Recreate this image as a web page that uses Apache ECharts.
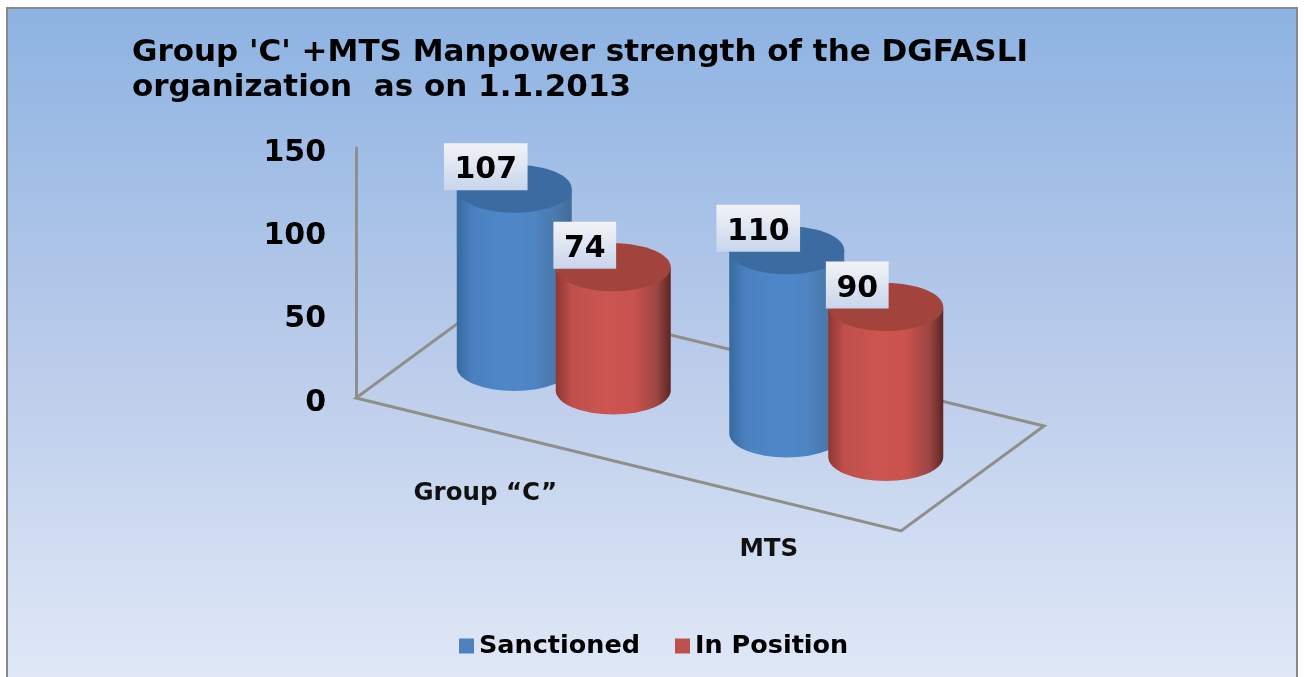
<!DOCTYPE html>
<html>
<head>
<meta charset="utf-8">
<style>html,body{margin:0;padding:0;background:#fff}#chart{width:1304px;height:677px}</style>
<script src="https://cdn.jsdelivr.net/npm/echarts@6/dist/echarts.min.js"></script>
</head>
<body>
<div id="chart"></div>
<script>
var titleText = "Group 'C' +MTS Manpower strength of the DGFASLI\norganization  as on 1.1.2013";
var categories = ['Group \u201CC\u201D', 'MTS'];
var sanctioned = [107, 110];
var inPosition = [74, 90];
var yTicks = [0, 50, 100, 150];

var FONT = '"DejaVu Sans", Verdana, sans-serif';
var GRID = {left: 356, top: 148, width: 545, height: 250};
var SKEW = 133 / 545;            // fall of the floor's front edge per pixel
var DEPTH = [143, -105];         // floor depth vector
var RX = 57.5, RY = 24;
var labelNudge = [[-7, 62.5], [4, 51.5]];

var blueBody = ['#366a9f', '#4a80bf', '#4f88ca', '#4d84c2', '#4a77a8', '#3f6c9c'];
var redBody = ['#8f3733', '#bf4f4b', '#cd5551', '#c9524e', '#9c4643', '#5c2523'];

function bodyFill(stops) {
  return new echarts.graphic.LinearGradient(0, 0, 1, 0, [
    {offset: 0, color: stops[0]}, {offset: 0.14, color: stops[1]},
    {offset: 0.45, color: stops[2]}, {offset: 0.68, color: stops[3]},
    {offset: 0.88, color: stops[4]}, {offset: 1, color: stops[5]}
  ]);
}

function cylinder(seriesSide, bodyStops, topColor) {
  return function (params, api) {
    var cat = api.value(0), val = api.value(1);
    var sys = params.coordSys;
    var p = api.coord([cat, 0]);
    var h = api.size([0, val])[1];
    var cx = p[0] + DEPTH[0] / 2 + seriesSide * 49.5;
    var by = p[1] + (p[0] - sys.x) * SKEW + DEPTH[1] / 2 + seriesSide * 11.75;
    var ty = by - h;
    var x1 = cx - RX, x2 = cx + RX;
    var text = String(val);
    var font = 'bold 30px ' + FONT;
    var tw = echarts.format.getTextRect(text, font).width;
    var bw = tw + 21, bh = 47, bcx = cx - 28.5, bcy = ty - 22;
    return {
      type: 'group',
      children: [
        {type: 'path',
         shape: {pathData: 'M' + x1 + ' ' + ty + ' L' + x1 + ' ' + by +
           ' A' + RX + ' ' + RY + ' 0 0 0 ' + x2 + ' ' + by + ' L' + x2 + ' ' + ty + ' Z'},
         style: {fill: bodyFill(bodyStops)}},
        {type: 'ellipse', shape: {cx: cx, cy: ty, rx: RX, ry: RY}, style: {fill: topColor}},
        {type: 'rect', z2: 10, shape: {x: bcx - bw / 2, y: bcy - bh / 2, width: bw, height: bh},
         style: {fill: new echarts.graphic.LinearGradient(0, 0, 0, 1, [
           {offset: 0, color: '#f1f3f7'}, {offset: 0.35, color: '#e4e9f3'}, {offset: 1, color: '#c8d5ec'}
         ])}},
        {type: 'text', z2: 11, x: bcx, y: bcy + 4,
         style: {text: text, font: font, fill: '#000', align: 'center', verticalAlign: 'middle'}}
      ]
    };
  };
}

function floor(params) {
  var s = params.coordSys;
  var O = [s.x, s.y + s.height];
  var F = [O[0] + s.width, O[1] + s.width * SKEW];
  return {
    type: 'polygon',
    shape: {points: [O, F, [F[0] + DEPTH[0], F[1] + DEPTH[1]], [O[0] + DEPTH[0], O[1] + DEPTH[1]]]},
    style: {fill: 'none', stroke: '#8e8e8a', lineWidth: 3}
  };
}

function categoryLabel(params, api) {
  var i = api.value(0);
  var p = api.coord([i, 0]);
  return {
    type: 'text',
    x: p[0] + labelNudge[i][0],
    y: p[1] + (p[0] - params.coordSys.x) * SKEW + labelNudge[i][1],
    style: {text: categories[i], font: 'bold 24.5px ' + FONT, fill: '#111', align: 'center', verticalAlign: 'middle'}
  };
}

var chart = echarts.init(document.getElementById('chart'), null, {renderer: 'canvas'});
chart.setOption({
  animation: false,
  backgroundColor: '#ffffff',
  graphic: [{
    type: 'rect', z: -10, silent: true,
    shape: {x: 7, y: 8, width: 1290, height: 680},
    style: {
      stroke: '#8a8a8a', lineWidth: 2,
      fill: new echarts.graphic.LinearGradient(0, 0, 0, 1, [
        {offset: 0, color: '#8db3e2'}, {offset: 0.5, color: '#b9cbea'}, {offset: 1, color: '#e1e9f7'}
      ])
    }
  }],
  title: {
    text: titleText, left: 132, top: 35, padding: 0,
    textStyle: {fontFamily: FONT, fontSize: 31, fontWeight: 'bold', color: '#000', lineHeight: 35}
  },
  legend: {
    left: 459, top: 633, padding: 0, itemWidth: 15, itemHeight: 15, itemGap: 35,
    data: [{name: 'Sanctioned', icon: 'rect'}, {name: 'In Position', icon: 'rect'}],
    textStyle: {fontFamily: FONT, fontSize: 25.5, fontWeight: 'bold', color: '#000'}
  },
  grid: GRID,
  xAxis: {type: 'category', data: categories, show: false},
  yAxis: {
    type: 'value', min: yTicks[0], max: yTicks[yTicks.length - 1], interval: yTicks[1] - yTicks[0],
    axisLine: {show: true, lineStyle: {color: '#8e8e8e', width: 3}},
    axisTick: {show: false}, splitLine: {show: false},
    axisLabel: {
      margin: 30, formatter: '{t|{value}}',
      rich: {t: {padding: [10, 0, 0, 0], fontFamily: FONT, fontSize: 30, fontWeight: 'bold', color: '#000'}}
    }
  },
  series: [
    {type: 'custom', name: 'floor', silent: true, data: [[0, 0]], encode: {x: 0, y: 1}, renderItem: floor, z: 1},
    {type: 'custom', name: 'Sanctioned', z: 2, itemStyle: {color: '#4f81bd'},
     data: sanctioned.map(function (v, i) { return [i, v]; }), encode: {x: 0, y: 1},
     renderItem: cylinder(-1, blueBody, '#3c6ba2')},
    {type: 'custom', name: 'In Position', z: 3, itemStyle: {color: '#c0504d'},
     data: inPosition.map(function (v, i) { return [i, v]; }), encode: {x: 0, y: 1},
     renderItem: cylinder(1, redBody, '#a3443c')},
    {type: 'custom', name: 'labels', silent: true, z: 4,
     data: categories.map(function (c, i) { return [i, 0]; }), encode: {x: 0, y: 1},
     renderItem: categoryLabel}
  ]
});
</script>
</body>
</html>
